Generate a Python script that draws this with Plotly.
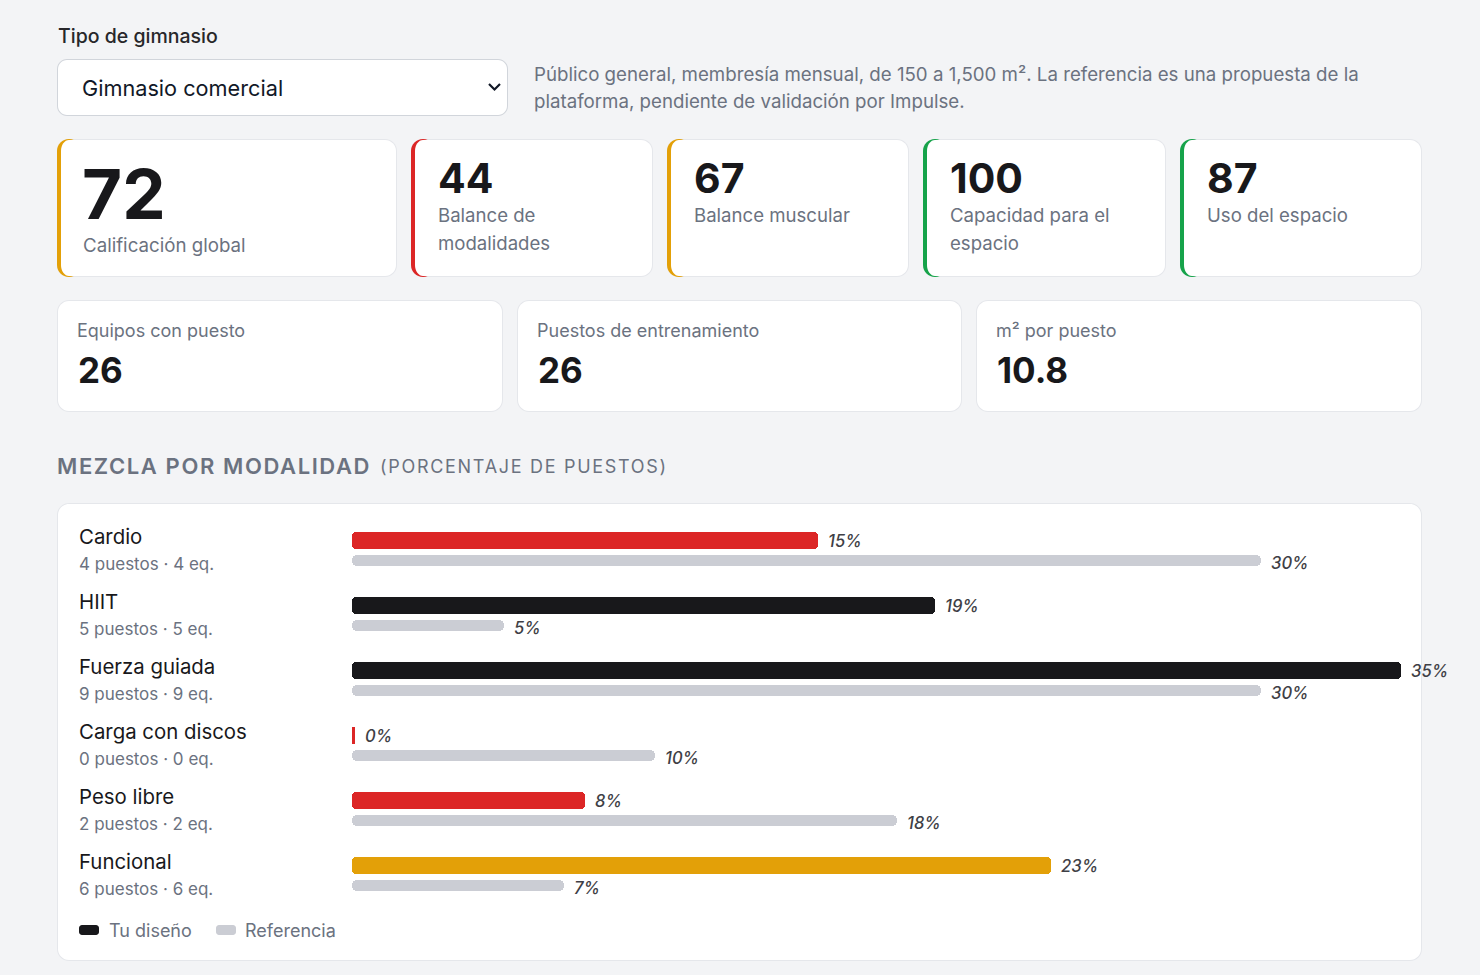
import plotly.graph_objects as go

W, H = 1480, 975

# ---------------- data ----------------
gym_type_label = "Tipo de gimnasio"
gym_type = "Gimnasio comercial"
desc_lines = [
    "Público general, membresía mensual, de 150 a 1,500 m². La referencia es una propuesta de la",
    "plataforma, pendiente de validación por Impulse.",
]

score_values = [72, 44, 67, 100, 87]
score_labels = [
    ["Calificación global"],
    ["Balance de", "modalidades"],
    ["Balance muscular"],
    ["Capacidad para el", "espacio"],
    ["Uso del espacio"],
]

stat_labels = ["Equipos con puesto", "Puestos de entrenamiento", "m² por puesto"]
stat_values = ["26", "26", "10.8"]

section_title = "MEZCLA POR MODALIDAD"
section_subtitle = "(PORCENTAJE DE PUESTOS)"

categories = ["Cardio", "HIIT", "Fuerza guiada", "Carga con discos", "Peso libre", "Funcional"]
puestos = [4, 5, 9, 0, 2, 6]
equipos = [4, 5, 9, 0, 2, 6]
design_pct = [15.38, 19.23, 34.62, 0.0, 7.69, 23.08]
reference_pct = [30, 5, 30, 10, 18, 7]
legend_labels = ["Tu diseño", "Referencia"]

# ---------------- styles ----------------
FONT = "Inter"
BG = "#f3f4f6"
BORDER = "#e5e7eb"
GRAY = "#6b7280"
DARK = "#18181b"
RED = "#dc2626"
AMBER = "#e3a008"
GREEN = "#16a34a"
REF_GRAY = "#cbcdd4"
score_colors = [AMBER, RED, AMBER, GREEN, GREEN]
design_colors = [RED, DARK, DARK, RED, RED, AMBER]

shapes = []
annotations = []


def px(x):
    return x / W


def py(y):
    return 1 - y / H


def rpath(x0, y0, x1, y1, rxl, ryl, rxr, ryr):
    k = 0.5523
    pts = []
    pts.append(f"M{px(x0 + rxl):.6f},{py(y0):.6f}")
    pts.append(f"L{px(x1 - rxr):.6f},{py(y0):.6f}")
    pts.append(f"C{px(x1 - rxr + k * rxr):.6f},{py(y0):.6f} {px(x1):.6f},{py(y0 + ryr - k * ryr):.6f} {px(x1):.6f},{py(y0 + ryr):.6f}")
    pts.append(f"L{px(x1):.6f},{py(y1 - ryr):.6f}")
    pts.append(f"C{px(x1):.6f},{py(y1 - ryr + k * ryr):.6f} {px(x1 - rxr + k * rxr):.6f},{py(y1):.6f} {px(x1 - rxr):.6f},{py(y1):.6f}")
    pts.append(f"L{px(x0 + rxl):.6f},{py(y1):.6f}")
    pts.append(f"C{px(x0 + rxl - k * rxl):.6f},{py(y1):.6f} {px(x0):.6f},{py(y1 - ryl + k * ryl):.6f} {px(x0):.6f},{py(y1 - ryl):.6f}")
    pts.append(f"L{px(x0):.6f},{py(y0 + ryl):.6f}")
    pts.append(f"C{px(x0):.6f},{py(y0 + ryl - k * ryl):.6f} {px(x0 + rxl - k * rxl):.6f},{py(y0):.6f} {px(x0 + rxl):.6f},{py(y0):.6f}")
    pts.append("Z")
    return " ".join(pts)


def add_path(path, fill, line_color=None, line_width=0):
    shapes.append(dict(type="path", path=path, xref="paper", yref="paper",
                       fillcolor=fill, layer="below",
                       line=dict(color=line_color or "rgba(0,0,0,0)", width=line_width)))


def card(x0, y0, x1, y1, r=12, accent=None):
    add_path(rpath(x0, y0, x1, y1, r, r, r, r), BORDER)
    if accent:
        add_path(rpath(x0, y0, x0 + 2 * r, y1, r, r, r, r), accent)
        add_path(rpath(x0 + 4, y0 + 1, x1 - 1, y1 - 1, r - 4, r - 1, r - 1, r - 1), "white")
    else:
        add_path(rpath(x0 + 1, y0 + 1, x1 - 1, y1 - 1, r - 1, r - 1, r - 1, r - 1), "white")


def text(x, y, s, size, color, weight=400, style="normal", xref="paper", yref="paper", xshift=0):
    annotations.append(dict(
        x=px(x) if xref == "paper" else x,
        y=py(y) if yref == "paper" else y,
        xref=xref, yref=yref, text=s, showarrow=False,
        xanchor="left", yanchor="middle", xshift=xshift,
        font=dict(family=FONT, size=size, color=color, weight=weight, style=style),
    ))


# ---------------- header: select + description ----------------
text(56, 36, gym_type_label, 19.5, "#27272a", 500)
add_path(rpath(57, 59, 508, 116, 10, 10, 10, 10), "#d1d5db")
add_path(rpath(58, 60, 507, 115, 9, 9, 9, 9), "white")
text(80, 88, gym_type, 21.7, "#111827", 400)
shapes.append(dict(type="path", xref="paper", yref="paper", layer="above",
                   path=f"M{px(489):.6f},{py(84):.6f} L{px(494.5):.6f},{py(89.5):.6f} L{px(500):.6f},{py(84):.6f}",
                   fillcolor="rgba(0,0,0,0)", line=dict(color="#111827", width=2.2)))
text(532, 75, desc_lines[0], 18.7, GRAY)
text(532, 102, desc_lines[1], 18.7, GRAY)

# ---------------- score cards ----------------
score_boxes = [(57, 139, 397, 277), (411, 139, 653, 277), (667, 139, 909, 277),
               (923, 139, 1166, 277), (1180, 139, 1422, 277)]
for i, (x0, y0, x1, y1) in enumerate(score_boxes):
    card(x0, y0, x1, y1, 12, score_colors[i])
    if i == 0:
        text(x0 + 23, 194, str(score_values[i]), 69, DARK, 700)
        text(x0 + 24, 245, score_labels[i][0], 18.7, GRAY)
    else:
        text(x0 + 25, 178, str(score_values[i]), 41, DARK, 700)
        for j, line in enumerate(score_labels[i]):
            text(x0 + 25, 215 + 28 * j, line, 18.6, GRAY)

# ---------------- stat cards ----------------
stat_boxes = [(57, 300, 503, 412), (517, 300, 962, 412), (976, 300, 1422, 412)]
for i, (x0, y0, x1, y1) in enumerate(stat_boxes):
    card(x0, y0, x1, y1, 12)
    text(x0 + 18, 330, stat_labels[i], 18, GRAY)
    text(x0 + 19, 370, stat_values[i], 35, DARK, 700)

# ---------------- section title ----------------
text(55, 466, f'<span style="letter-spacing:1.6px">{section_title}</span>', 22, GRAY, 600)
text(378, 467, f'<span style="letter-spacing:1.7px">{section_subtitle}</span>', 18, GRAY, 400)

# ---------------- chart card ----------------
card(57, 503, 1422, 961, 12)

ROW0 = 540.4
PITCH = 64.95
design_y = [ROW0 + PITCH * i for i in range(len(categories))]
ref_y = [y + 20 for y in design_y]

for i, cat in enumerate(categories):
    text(77, design_y[i] - 4, cat, 20.4, DARK, 400)
    text(77, design_y[i] + 24, f"{puestos[i]} puestos · {equipos[i]} eq.", 17, GRAY, 400)

design_display = [max(v, 0.1) for v in design_pct]

fig = go.Figure()
fig.add_trace(go.Bar(
    x=design_display, y=design_y, orientation="h", width=17, base=0,
    marker=dict(color=design_colors, cornerradius=4, line=dict(width=0)),
    name=legend_labels[0], showlegend=False, hoverinfo="skip",
))
fig.add_trace(go.Bar(
    x=reference_pct, y=ref_y, orientation="h", width=11, base=0,
    marker=dict(color=REF_GRAY, cornerradius=5, line=dict(width=0)),
    name=legend_labels[1], showlegend=False, hoverinfo="skip",
))

for i in range(len(categories)):
    text(design_display[i], design_y[i] + 1, f"{round(design_pct[i])}%", 16.6, "#3f3f46", 500,
         "italic", xref="x", yref="y", xshift=8)
    text(reference_pct[i], ref_y[i] + 3, f"{round(reference_pct[i])}%", 16.6, "#3f3f46", 500,
         "italic", xref="x", yref="y", xshift=8)

# ---------------- legend ----------------
add_path(rpath(79, 925, 99, 935, 3, 3, 3, 3), DARK)
text(107, 930, legend_labels[0], 18, GRAY)
add_path(rpath(216, 925, 236, 935, 3, 3, 3, 3), REF_GRAY)
text(243, 930, legend_labels[1], 18, GRAY)

max_val = max(design_pct + reference_pct)
fig.update_layout(
    width=W, height=H,
    margin=dict(l=0, r=0, t=0, b=0, pad=0),
    paper_bgcolor=BG, plot_bgcolor="rgba(0,0,0,0)",
    barmode="overlay", bargap=0,
    font=dict(family=FONT),
    xaxis=dict(domain=[352 / W, 1401 / W], range=[0, max_val], visible=False, fixedrange=True),
    yaxis=dict(domain=[0, 1], range=[H, 0], visible=False, fixedrange=True),
    shapes=shapes, annotations=annotations,
    showlegend=False,
)

fig.write_html("out.html")
